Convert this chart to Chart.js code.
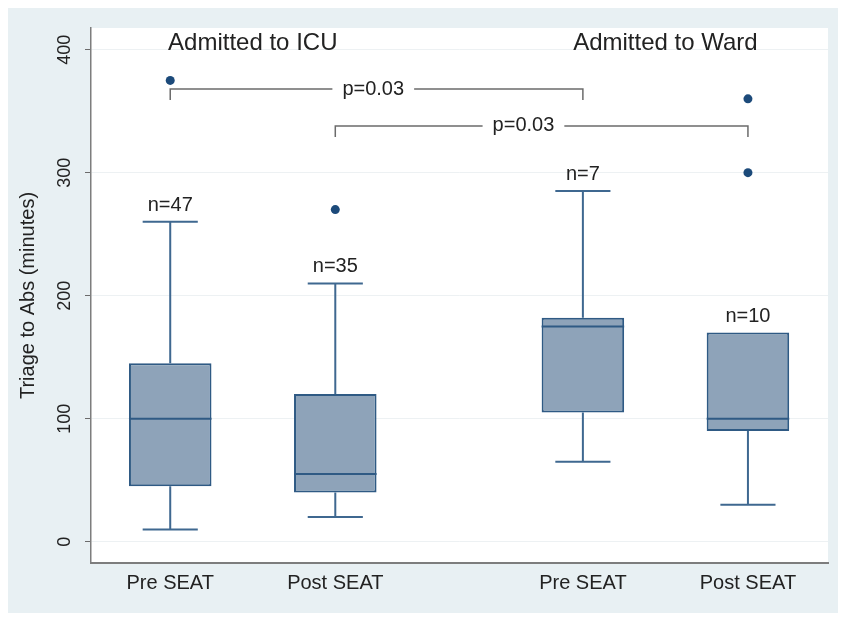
<!DOCTYPE html>
<html>
<head>
<meta charset="utf-8">
<title>Triage to Abs</title>
<script src="https://cdn.jsdelivr.net/npm/chart.js@4.4.1/dist/chart.umd.min.js"></script>
<style>
  html, body { margin: 0; padding: 0; background: #fff; }
  #frame { position: absolute; left: 8px; top: 8px; width: 830px; height: 605px; background: #e8f0f3; }
</style>
</head>
<body>
<div id="frame"><canvas id="chart" width="830" height="605"></canvas></div>
<script>
// box positions and labels
const xPos = [1, 2, 3.5, 4.5];
const xLabels = ["Pre SEAT", "Post SEAT", "Pre SEAT", "Post SEAT"];
const nLabels = ["n=47", "n=35", "n=7", "n=10"];

// box summaries (minutes)
const whiskerLow = [10, 20, 65, 30];
const q1 = [45, 40, 105, 90];
const median = [100, 55, 175, 100];
const q3 = [145, 120, 182, 170];
const whiskerHigh = [260, 210, 285, 170];

// outside values
const outlierX = [1, 2, 4.5, 4.5];
const outlierY = [375, 270, 360, 300];

// group headings
const groupTitles = ["Admitted to ICU", "Admitted to Ward"];
const groupX = [1.5, 4.0];
const groupY = [405, 405];

// comparison brackets
const bracketFrom = [1, 2];
const bracketTo = [3.5, 4.5];
const bracketY = [368, 338];
const bracketLabel = ["p=0.03", "p=0.03"];
const bracketLabelX = [2.23, 3.14];

const yTicks = [0, 100, 200, 300, 400];

const FONT = "'Liberation Sans', Arial, sans-serif";
const TEXT = "#222";
const BOX_FILL = "#8ea3b9";
const BOX_LINE = "#2f5a84";
const WHISKER = "#3f6890";
const DOT = "#1c4a7a";
const CAP_HALF = 0.167; // x units

const boxPlot = {
  id: "boxPlot",
  beforeDraw(chart) {
    const { ctx, chartArea: a } = chart;
    ctx.save();
    ctx.fillStyle = "#ffffff";
    ctx.fillRect(a.left, a.top, a.right - a.left, a.bottom - a.top);
    ctx.restore();
  },
  beforeDatasetsDraw(chart) {
    const { ctx, scales: { x, y } } = chart;
    ctx.save();
    ctx.strokeStyle = WHISKER;
    ctx.lineWidth = 2;
    xPos.forEach((v, i) => {
      const px = x.getPixelForValue(v);
      const cl = x.getPixelForValue(v - CAP_HALF);
      const cr = x.getPixelForValue(v + CAP_HALF);
      const seg = (from, to) => {
        if (from === to) return;
        const y0 = y.getPixelForValue(from);
        const y1 = y.getPixelForValue(to);
        ctx.beginPath();
        ctx.moveTo(px, y0);
        ctx.lineTo(px, y1);
        ctx.moveTo(cl, y1);
        ctx.lineTo(cr, y1);
        ctx.stroke();
      };
      seg(q3[i], whiskerHigh[i]);
      seg(q1[i], whiskerLow[i]);
    });
    ctx.restore();
  },
  afterDatasetsDraw(chart) {
    const { ctx, scales: { x, y } } = chart;
    const bars = chart.getDatasetMeta(0).data;
    ctx.save();

    // medians
    ctx.strokeStyle = BOX_LINE;
    ctx.lineWidth = 2;
    bars.forEach((bar, i) => {
      const half = bar.width / 2;
      const py = y.getPixelForValue(median[i]);
      ctx.beginPath();
      ctx.moveTo(bar.x - half, py);
      ctx.lineTo(bar.x + half, py);
      ctx.stroke();
    });

    // n labels above the upper whisker
    ctx.fillStyle = TEXT;
    ctx.font = "20px " + FONT;
    ctx.textAlign = "center";
    ctx.textBaseline = "alphabetic";
    nLabels.forEach((t, i) => {
      ctx.fillText(t, x.getPixelForValue(xPos[i]), y.getPixelForValue(whiskerHigh[i]) - 11);
    });

    // group titles
    ctx.font = "24px " + FONT;
    ctx.textBaseline = "middle";
    groupTitles.forEach((t, i) => {
      ctx.fillText(t, x.getPixelForValue(groupX[i]), y.getPixelForValue(groupY[i]));
    });

    // brackets
    ctx.font = "20px " + FONT;
    ctx.strokeStyle = "#6b6b6b";
    ctx.lineWidth = 1.5;
    bracketLabel.forEach((t, i) => {
      const x0 = x.getPixelForValue(bracketFrom[i]);
      const x1 = x.getPixelForValue(bracketTo[i]);
      const py = y.getPixelForValue(bracketY[i]);
      const lx = x.getPixelForValue(bracketLabelX[i]);
      const w = ctx.measureText(t).width / 2 + 10;
      ctx.beginPath();
      ctx.moveTo(x0, py + 11);
      ctx.lineTo(x0, py);
      ctx.lineTo(lx - w, py);
      ctx.moveTo(lx + w, py);
      ctx.lineTo(x1, py);
      ctx.lineTo(x1, py + 11);
      ctx.stroke();
      ctx.fillText(t, lx, py);
    });
    ctx.restore();
  }
};

new Chart(document.getElementById("chart"), {
  type: "bar",
  data: {
    datasets: [
      {
        type: "bar",
        label: "IQR",
        data: xPos.map((v, i) => ({ x: v, y: [q1[i], q3[i]] })),
        backgroundColor: BOX_FILL,
        borderColor: BOX_LINE,
        borderWidth: 2,
        borderSkipped: false,
        categoryPercentage: 1,
        barPercentage: 0.5,
      },
      {
        type: "scatter",
        label: "Outliers",
        data: outlierX.map((v, i) => ({ x: v, y: outlierY[i] })),
        backgroundColor: DOT,
        borderColor: DOT,
        pointRadius: 4.5,
        borderWidth: 0,
      },
    ],
  },
  options: {
    responsive: false,
    animation: false,
    events: [],
    layout: { padding: { top: 20, right: 10, left: 0, bottom: 0 } },
    plugins: { legend: { display: false }, tooltip: { enabled: false } },
    scales: {
      x: {
        type: "linear",
        min: 0.52,
        max: 4.985,
        offset: false,
        afterBuildTicks: (s) => { s.ticks = xPos.map(v => ({ value: v })); },
        afterFit: (s) => { s.height = 50; },
        ticks: {
          autoSkip: false,
          maxRotation: 0,
          padding: 8,
          color: TEXT,
          font: { family: FONT, size: 20 },
          callback: (v) => xLabels[xPos.indexOf(v)],
        },
        grid: { display: false, drawTicks: false },
        border: { display: true, color: "#7d7d7d", width: 2 },
      },
      y: {
        min: -17.3,
        max: 417.6,
        afterBuildTicks: (s) => { s.ticks = yTicks.map(v => ({ value: v })); },
        afterFit: (s) => { s.width = 83; },
        ticks: {
          minRotation: 90,
          maxRotation: 90,
          crossAlign: "center",
          padding: 5,
          color: TEXT,
          font: { family: FONT, size: 18 },
        },
        grid: { color: "#edf1f3", lineWidth: 1, tickLength: 6, tickColor: "#6b6b6b" },
        border: { display: true, color: "#7d7d7d", width: 1.5 },
        title: {
          display: true,
          text: "Triage to Abs (minutes)",
          color: TEXT,
          font: { family: FONT, size: 20 },
          padding: { top: 8, bottom: 0 },
        },
      },
    },
  },
  plugins: [boxPlot],
});
</script>
</body>
</html>
